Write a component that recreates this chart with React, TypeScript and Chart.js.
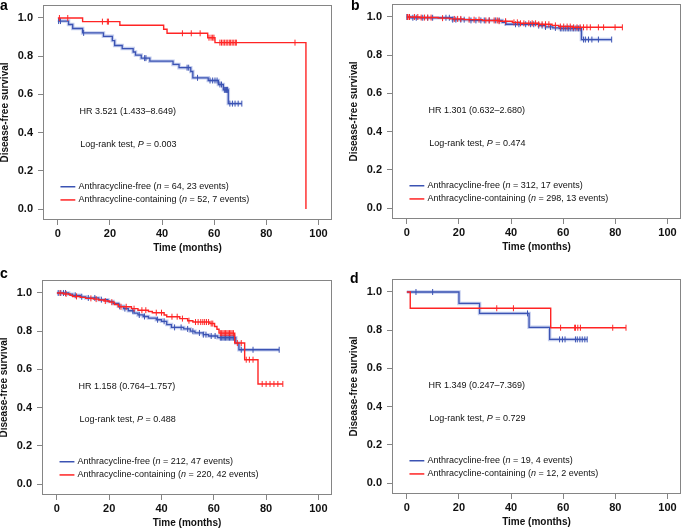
import React, { useEffect, useRef } from 'react';
import { Chart, registerables } from 'chart.js';

Chart.register(...registerables);

const FONT = '"Liberation Sans", Arial, Helvetica, sans-serif';
const BLUE = '#3b53b3';
const BLUE_HALO = 'rgba(90,115,205,0.35)';
const RED = '#ff2424';
const BOX = '#858585';
const TEXT = '#111111';

// ---- shared axis / text data ----
const xTickValues = [0, 20, 40, 60, 80, 100];
const yTickValues = [0, 0.2, 0.4, 0.6, 0.8, 1.0];
const xTitle = 'Time (months)';
const yTitle = 'Disease-free survival';
const panelLetters = ['a', 'b', 'c', 'd'];
const hrLabels = ['HR 3.521 (1.433–8.649)', 'HR 1.301 (0.632–2.680)', 'HR 1.158 (0.764–1.757)', 'HR 1.349 (0.247–7.369)'];
const pValues = ['0.003', '0.474', '0.488', '0.729'];
const freeName = 'Anthracycline-free';
const contName = 'Anthracycline-containing';
const freeN = [64, 312, 212, 19];
const freeEvents = [23, 17, 47, 4];
const contN = [52, 298, 220, 12];
const contEvents = [7, 13, 42, 2];

// ---- panel a ----
const aFreeTime = [0, 4.1, 5.7, 9.5, 17.5, 20.9, 21.8, 24.7, 28.9, 29.8, 32.0, 35.3, 44.2, 46.5, 51.0, 51.8, 57.7, 61.6, 63.5, 65.4];
const aFreeSurv = [0.984, 0.966, 0.945, 0.922, 0.904, 0.882, 0.856, 0.84, 0.822, 0.806, 0.79, 0.774, 0.757, 0.74, 0.72, 0.687, 0.673, 0.652, 0.624, 0.552];
const aFreeCensor = [0.3, 1.0, 9.9, 33.3, 33.8, 49.6, 50.2, 53.6, 58.4, 59.4, 60.3, 61.1, 62.2, 62.8, 63.9, 64.3, 64.7, 65.0, 65.2, 66.0, 67.0, 68.0, 69.2, 70.6];
const aContTime = [0, 9.5, 23.8, 40.6, 41.9, 57.5, 60.3, 95.2];
const aContSurv = [1, 0.981, 0.962, 0.941, 0.92, 0.897, 0.871, 0];
const aContCensor = [0.6, 3.8, 17.1, 19.0, 19.4, 47.8, 51.2, 54.6, 58.0, 58.8, 59.4, 59.9, 62.2, 62.8, 63.4, 64.0, 64.6, 65.2, 65.8, 66.3, 66.9, 67.5, 68.1, 68.5, 91.0];

// ---- panel b ----
const bFreeTime = [0, 1.5, 17.6, 24, 36.6, 38, 50.6, 53.2, 56, 58.5, 67];
const bFreeSurv = [1, 0.996, 0.986, 0.982, 0.972, 0.962, 0.955, 0.948, 0.943, 0.94, 0.882];
const bFreeCensor = [0, 1.0, 2.3, 3.6, 6.1, 8.0, 9.9, 15.0, 16.3, 17.6, 18.8, 20.7, 22.0, 24.6, 26.5, 28.4, 29.7, 31.6, 34.1, 35.4, 37.9, 41.7, 43, 45.6, 47.5, 48.7, 50.6, 51.9, 53.2, 55.1, 57, 58.9, 59.5, 60.2, 60.8, 61.5, 62.1, 62.7, 63.4, 64, 64.6, 65.3, 65.9, 66.5, 67.8, 68.5, 69.7, 71, 73.5, 78.6];
const bContTime = [0, 5, 12, 16.5, 22, 29, 35.4, 40.5, 43.5, 50.6, 55.7, 58.3, 63.5];
const bContSurv = [1, 0.997, 0.994, 0.99, 0.986, 0.982, 0.978, 0.972, 0.967, 0.962, 0.956, 0.95, 0.946];
const bContCensor = [0.2, 0.4, 1.0, 2.9, 4.2, 5.5, 6.8, 8.0, 9.3, 13.7, 18.2, 19.5, 20.7, 23.9, 25.8, 27.7, 30.3, 31.6, 33.5, 34.7, 35.4, 37.9, 41.1, 42.4, 43.6, 44.9, 46.8, 48.1, 49.4, 50.6, 51.9, 53.2, 54.5, 57, 58.9, 60.2, 61.5, 62.7, 64, 65.3, 66.5, 67.8, 69.1, 70.4, 73.5, 75.5, 79.9, 82.7];

// ---- panel c ----
const cFreeTime = [0, 4.5, 6, 9, 11, 16, 19.5, 21.5, 23.5, 25.5, 27.3, 29.5, 31, 33, 35, 38, 40, 42, 43.8, 48.5, 51, 52.8, 56, 58, 61.5, 68.4, 69.6];
const cFreeSurv = [1, 0.994, 0.988, 0.98, 0.974, 0.965, 0.956, 0.945, 0.93, 0.918, 0.907, 0.895, 0.885, 0.877, 0.869, 0.86, 0.852, 0.835, 0.82, 0.812, 0.8, 0.791, 0.782, 0.775, 0.766, 0.738, 0.703];
const cFreeCensor = [0.5, 1.5, 2.5, 3.3, 7, 9.5, 12, 14.5, 17, 24, 26, 29, 31.5, 33.5, 38.5, 41, 45, 47.5, 50, 52, 54.5, 56, 57, 59, 60.5, 62.5, 63, 63.5, 64, 64.5, 65, 65.5, 66, 66.5, 67, 67.5, 68, 70.5, 75, 85];
const cContTime = [0, 2.5, 5, 6, 9, 11, 14, 16, 18, 20, 22, 23.5, 28.5, 31, 35, 36.5, 41, 42, 47, 50, 52, 58.5, 60.3, 61.2, 62, 68, 71.8, 76.9];
const cContSurv = [1, 0.995, 0.988, 0.982, 0.977, 0.972, 0.968, 0.963, 0.958, 0.952, 0.94, 0.928, 0.918, 0.91, 0.903, 0.897, 0.885, 0.876, 0.866, 0.855, 0.848, 0.84, 0.825, 0.81, 0.79, 0.738, 0.651, 0.524];
const cContCensor = [1.2, 3.5, 7.5, 13, 15, 18.5, 21, 24.5, 26.5, 29.5, 32.5, 34, 38, 40, 44, 46, 48, 50.5, 53, 54, 55, 55.8, 56.5, 57.2, 58, 59, 59.6, 62.5, 63, 63.5, 64, 64.5, 65, 65.5, 66, 66.5, 67, 67.5, 69, 70.5, 72.4, 73.6, 75, 78.5, 80, 81.5, 83, 84.5, 86.4];

// ---- panel d ----
const dFreeTime = [0, 20.0, 27.9, 46.9, 54.8];
const dFreeSurv = [1, 0.94, 0.888, 0.815, 0.752];
const dFreeCensor = [3.5, 9.9, 46.3, 58.6, 59.7, 60.7, 64.7, 65.4, 66.4, 67.3, 68.3, 69.2];
const dContTime = [0, 1.3, 55.2];
const dContSurv = [1, 0.915, 0.813];
const dContCensor = [34.5, 40.9, 59, 64.4, 64.7, 65.6, 66.6, 79, 84.1];

const seriesData = [
  { free: [aFreeTime, aFreeSurv, aFreeCensor], cont: [aContTime, aContSurv, aContCensor] },
  { free: [bFreeTime, bFreeSurv, bFreeCensor], cont: [bContTime, bContSurv, bContCensor] },
  { free: [cFreeTime, cFreeSurv, cFreeCensor], cont: [cContTime, cContSurv, cContCensor] },
  { free: [dFreeTime, dFreeSurv, dFreeCensor], cont: [dContTime, dContSurv, dContCensor] },
];

// ---- layout (plot box position on the page) ----
const boxes = [
  { left: 43, top: 5, w: 291, h: 215 },
  { left: 392, top: 4, w: 291, h: 215 },
  { left: 42, top: 280, w: 292, h: 215 },
  { left: 392, top: 279, w: 291, h: 215 },
];
const letterPos = [
  { left: 0, top: -2 },
  { left: 351, top: -2 },
  { left: 0, top: 266 },
  { left: 350, top: 271 },
];
const Y_AXIS_W = 44;
const X_AXIS_H = 40;
const PAD_TOP = 5;
const PAD_RIGHT = 2;

function stepPoints(times: number[], surv: number[], censor: number[]) {
  const pts = times.map((t, i) => ({ x: t, y: surv[i] }));
  const lastC = censor.length ? Math.max(...censor) : -Infinity;
  const last = pts[pts.length - 1];
  if (lastC > last.x) pts.push({ x: lastC, y: last.y });
  return pts;
}
function survAt(times: number[], surv: number[], t: number) {
  let s = surv[0];
  for (let i = 0; i < times.length; i++) if (times[i] <= t) s = surv[i];
  return s;
}
function censorPoints(times: number[], surv: number[], censor: number[]) {
  return censor.map((t) => ({ x: t, y: survAt(times, surv, t) }));
}

type Part = [string, boolean];
function drawRich(ctx: CanvasRenderingContext2D, parts: Part[], x: number, y: number) {
  let cx = x;
  for (const [text, italic] of parts) {
    ctx.font = `${italic ? 'italic ' : ''}9px ${FONT}`;
    ctx.fillText(text, cx, y);
    cx += ctx.measureText(text).width;
  }
}

const kmPlugin = {
  id: 'km',
  afterDatasetsDraw(chart: any, _args: any, opts: any) {
    const { ctx, chartArea } = chart;
    const xs = chart.scales.x;
    const ys = chart.scales.y;
    const i = opts.index;
    ctx.save();
    ctx.strokeStyle = BOX;
    ctx.lineWidth = 1;
    ctx.strokeRect(chartArea.left + 0.5, chartArea.top + 0.5, chartArea.right - chartArea.left - 1, chartArea.bottom - chartArea.top - 1);

    ctx.fillStyle = TEXT;
    ctx.textBaseline = 'middle';
    ctx.textAlign = 'left';
    drawRich(ctx, [[hrLabels[i], false]], xs.getPixelForValue(8.3), ys.getPixelForValue(0.512));
    drawRich(ctx, [['Log-rank test, ', false], ['P', true], [' = ' + pValues[i], false]], xs.getPixelForValue(8.6), ys.getPixelForValue(0.337));

    const legend = [
      { color: BLUE, name: freeName, n: freeN[i], ev: freeEvents[i], y: 0.117 },
      { color: RED, name: contName, n: contN[i], ev: contEvents[i], y: 0.048 },
    ];
    for (const l of legend) {
      const py = ys.getPixelForValue(l.y);
      ctx.strokeStyle = l.color;
      ctx.lineWidth = 1.5;
      ctx.beginPath();
      ctx.moveTo(xs.getPixelForValue(1.0), py);
      ctx.lineTo(xs.getPixelForValue(6.7), py);
      ctx.stroke();
      drawRich(ctx, [[l.name + ' (', false], ['n', true], [` = ${l.n}, ${l.ev} events)`, false]], xs.getPixelForValue(7.9), py);
    }
    ctx.restore();
  },
};

function Panel({ index }: { index: number }) {
  const ref = useRef<HTMLCanvasElement | null>(null);
  const box = boxes[index];
  const width = Y_AXIS_W + box.w + PAD_RIGHT;
  const height = PAD_TOP + box.h + X_AXIS_H;

  useEffect(() => {
    if (!ref.current) return;
    const sd = seriesData[index];
    const [ft, fs, fc] = sd.free;
    const [ct, cs, cc] = sd.cont;
    const lineDs = (data: any, color: string, w: number) => ({
      data, borderColor: color, borderWidth: w, stepped: 'before', pointRadius: 0, fill: false, tension: 0,
    });
    const censorDs = (data: any, color: string) => ({
      data, showLine: false, borderColor: color, backgroundColor: color, pointStyle: 'line', pointRotation: 90,
      pointRadius: 3, pointBorderWidth: 1, pointBorderColor: color, pointHoverRadius: 3,
    });
    const chart = new Chart(ref.current, {
      type: 'line',
      data: {
        datasets: [
          censorDs(censorPoints(ct, cs, cc), RED),
          lineDs(stepPoints(ct, cs, cc), RED, 1.4),
          censorDs(censorPoints(ft, fs, fc), BLUE),
          lineDs(stepPoints(ft, fs, fc), BLUE, 1.3),
          lineDs(stepPoints(ft, fs, fc), BLUE_HALO, 3.5),
        ] as any,
      },
      options: {
        animation: false,
        responsive: false,
        devicePixelRatio: 1,
        events: [],
        layout: { padding: { left: 0, top: PAD_TOP, right: PAD_RIGHT, bottom: 0 } },
        plugins: { legend: { display: false }, tooltip: { enabled: false }, km: { index } } as any,
        scales: {
          x: {
            type: 'linear',
            min: -5.7,
            max: 105.2,
            afterBuildTicks: (s: any) => { s.ticks = xTickValues.map((v) => ({ value: v })); },
            afterFit: (s: any) => { s.height = X_AXIS_H; s.paddingLeft = 0; s.paddingRight = 0; },
            grid: { drawOnChartArea: false, drawTicks: true, tickLength: 5, color: BOX, lineWidth: 1 },
            border: { display: false },
            ticks: { font: { family: FONT, size: 11, weight: 'bold' }, color: TEXT, padding: 2, maxRotation: 0, autoSkip: false, callback: (v: any) => String(v) },
            title: { display: true, text: xTitle, font: { family: FONT, size: 10, weight: 'bold' }, color: TEXT, padding: { top: 0, bottom: 5.7 } },
          },
          y: {
            type: 'linear',
            min: -0.057,
            max: 1.068,
            afterBuildTicks: (s: any) => { s.ticks = yTickValues.map((v) => ({ value: v })); },
            afterFit: (s: any) => { s.width = Y_AXIS_W; s.paddingTop = 0; s.paddingBottom = 0; },
            grid: { drawOnChartArea: false, drawTicks: true, tickLength: 5, color: BOX, lineWidth: 1 },
            border: { display: false },
            ticks: { font: { family: FONT, size: 11, weight: 'bold' }, color: TEXT, padding: 5, autoSkip: false, callback: (v: any) => Number(v).toFixed(1) },
            title: { display: true, text: yTitle, font: { family: FONT, size: 10, weight: 'bold' }, color: TEXT, padding: { top: 0.5, bottom: 0 } },
          },
        },
      } as any,
      plugins: [kmPlugin],
    });
    return () => chart.destroy();
  }, [index]);

  return (
    <canvas
      ref={ref}
      width={width}
      height={height}
      style={{ position: 'absolute', left: box.left - Y_AXIS_W, top: box.top - PAD_TOP, width, height }}
    />
  );
}

export default function App() {
  return (
    <div style={{ position: 'fixed', left: 0, top: 0, width: 685, height: 530, overflow: 'hidden', background: '#ffffff' }}>
      {panelLetters.map((_, i) => (
        <Panel key={i} index={i} />
      ))}
      {panelLetters.map((l, i) => (
        <div
          key={'l' + i}
          style={{ position: 'absolute', left: letterPos[i].left, top: letterPos[i].top, font: `bold 14px ${FONT}`, lineHeight: '14px', color: '#000' }}
        >
          {l}
        </div>
      ))}
    </div>
  );
}
